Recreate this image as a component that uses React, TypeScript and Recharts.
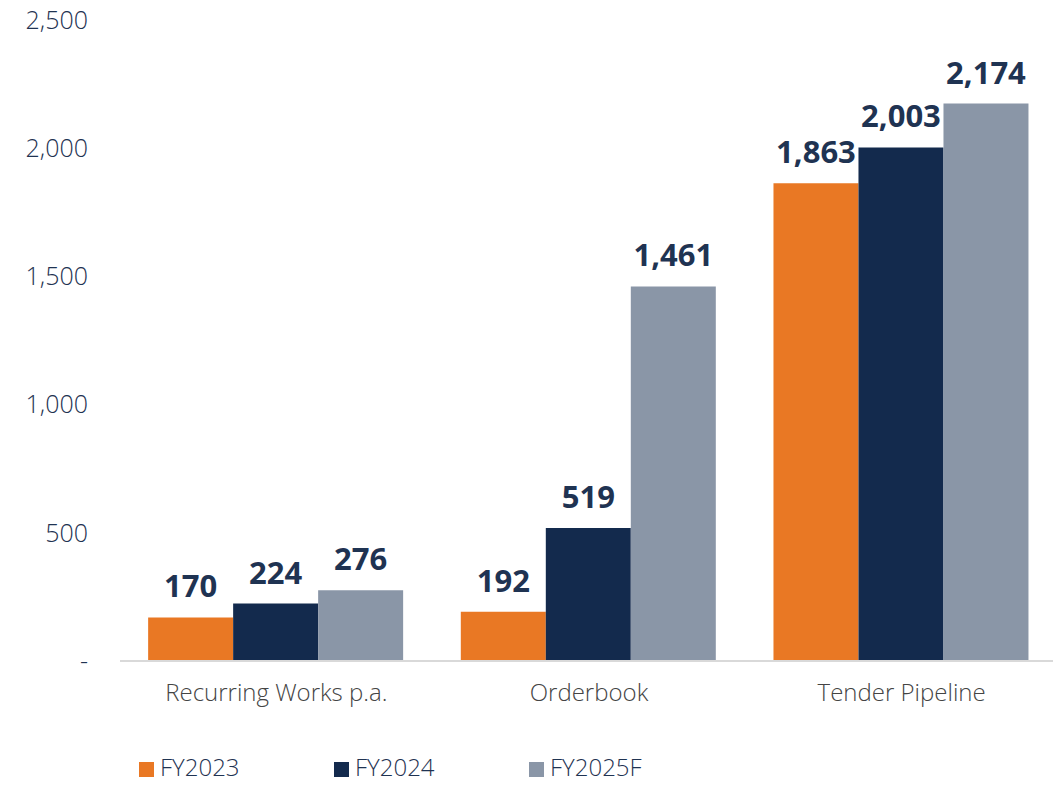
import { BarChart, Bar, XAxis, YAxis, LabelList, Legend } from 'recharts'

const categories = ['Recurring Works p.a.', 'Orderbook', 'Tender Pipeline']
const fy2023 = [170, 192, 1863]
const fy2024 = [224, 519, 2003]
const fy2025f = [276, 1461, 2174]
const yTicks = [0, 500, 1000, 1500, 2000, 2500]

const series = [
  { key: 'fy2023', name: 'FY2023', color: '#E97824' },
  { key: 'fy2024', name: 'FY2024', color: '#132A4D' },
  { key: 'fy2025f', name: 'FY2025F', color: '#8A96A7' },
]

const data = categories.map((name, i) => ({
  name,
  fy2023: fy2023[i],
  fy2024: fy2024[i],
  fy2025f: fy2025f[i],
}))

const FONT = '"Open Sans", sans-serif'
const NAVY_TEXT = '#1F3352'

const fmt = (v: number) => (v === 0 ? '-' : v.toLocaleString('en-US'))

const CustomLegend = () => (
  <div style={{ position: 'relative', height: 55, fontFamily: FONT }}>
    {series.map((s, i) => (
      <div
        key={s.key}
        style={{
          position: 'absolute',
          left: 139 + i * 195,
          top: 24,
          display: 'flex',
          alignItems: 'center',
          color: NAVY_TEXT,
          fontSize: 24,
          fontWeight: 300,
          lineHeight: '26px',
        }}
      >
        <span style={{ width: 15, height: 15, background: s.color, marginRight: 6, marginTop: 5 }} />
        {s.name}
      </div>
    ))}
  </div>
)

export default function App() {
  return (
    <div style={{ margin: '-8px 0 0 -8px', width: 1061, height: 785, background: '#fff' }}>
      <BarChart
        width={1061}
        height={785}
        data={data}
        margin={{ top: 20, right: 3, left: 0, bottom: 0 }}
        barCategoryGap="9%"
        barGap={0}
      >
        <XAxis
          dataKey="name"
          axisLine={{ stroke: '#D9D9D9', strokeWidth: 2 }}
          tickLine={false}
          tickSize={0}
          tickMargin={23}
          height={69}
          tick={{ fill: '#444', fontSize: 24, fontFamily: FONT, fontWeight: 300 }}
        />
        <YAxis
          domain={[0, 2500]}
          ticks={yTicks}
          tickFormatter={fmt}
          axisLine={false}
          tickLine={false}
          tickSize={0}
          tickMargin={32}
          width={120}
          tick={{ fill: NAVY_TEXT, fontSize: 25, fontFamily: FONT, fontWeight: 300 }}
        />
        <Legend verticalAlign="bottom" content={<CustomLegend />} />
        {series.map((s) => (
          <Bar key={s.key} dataKey={s.key} name={s.name} fill={s.color} isAnimationActive={false}>
            <LabelList
              dataKey={s.key}
              position="top"
              offset={20}
              formatter={(v: any) => fmt(Number(v))}
              style={{ fill: NAVY_TEXT, fontSize: 31, fontWeight: 700, fontFamily: FONT }}
            />
          </Bar>
        ))}
      </BarChart>
    </div>
  )
}
